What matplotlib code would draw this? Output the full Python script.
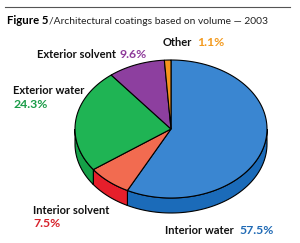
import numpy as np
import matplotlib.pyplot as plt
from matplotlib.patches import Polygon

# data (clockwise from 12 o'clock)
labels = ["Interior water", "Interior solvent", "Exterior water", "Exterior solvent", "Other"]
shares = [57.5, 7.5, 24.3, 9.6, 1.1]
top_colors = ["#3a86d1", "#f26b50", "#1fb454", "#8d3f9f", "#f7941d"]
side_colors = ["#1b6bb9", "#e61f2b", "#15a048", "#76318a", "#e07d10"]
text_colors = ["#1f6ab5", "#d7202a", "#1a9c48", "#8e3a9a", "#f39a1e"]

plt.rcParams['font.family'] = ['Lato', 'DejaVu Sans']

fig = plt.figure(figsize=(3.0, 2.43), dpi=100)
ax = fig.add_axes([0, 0, 1, 1])
ax.set_xlim(0, 300)
ax.set_ylim(243, 0)
ax.axis('off')

# pie geometry in pixels
cx, cy, a, b, depth = 171, 129, 96, 69, 15


def pt(t, dy=0.0):
    return cx + a * np.cos(np.radians(t)), cy - b * np.sin(np.radians(t)) + dy


cum = np.concatenate([[0], np.cumsum(shares)]) / sum(shares)
starts = 90 - 360 * cum[:-1]
ends = 90 - 360 * cum[1:]

# side walls (front half only: angles -180..0)
for s, e, col in zip(starts, ends, side_colors):
    hi = min(s, 0.0)
    lo = max(e, -180.0)
    if hi <= lo:
        continue
    t = np.linspace(hi, lo, 60)
    upper = [pt(v) for v in t]
    lower = [pt(v, depth) for v in t[::-1]]
    ax.add_patch(Polygon(upper + lower, closed=True, fc=col, ec='black', lw=0.8, zorder=1))

# top surface
for s, e, col in zip(starts, ends, top_colors):
    t = np.linspace(s, e, 120)
    verts = [(cx, cy)] + [pt(v) for v in t]
    ax.add_patch(Polygon(verts, closed=True, fc=col, ec='black', lw=0.8, zorder=2))

# title
ax.plot([5, 290], [7, 7], color='#555555', lw=0.8)
t1 = ax.text(7, 21, "Figure 5", fontsize=8.2, fontweight='bold', va='center', ha='left')
ax.annotate("/Architectural coatings based on volume \u2014 2003", xy=(1, 0.5), xycoords=t1,
            xytext=(0.3, 0), textcoords='offset points', fontsize=7.4, va='center', ha='left',
            color='#222222')

# labels
lab_kw = dict(fontsize=8, fontweight='bold', va='center', ha='left', color='#111111')
pct_kw = dict(fontsize=8.8, fontweight='bold', va='center', ha='left')

ax.text(163, 43, labels[4], **lab_kw)
ax.text(197, 43, f"{shares[4]}%", color=text_colors[4], **pct_kw)

ax.text(37, 54, labels[3], **lab_kw)
ax.text(119, 54, f"{shares[3]}%", color=text_colors[3], **pct_kw)

ax.text(13, 90, labels[2], **lab_kw)
ax.text(13, 104, f"{shares[2]}%", color=text_colors[2], **pct_kw)

ax.text(33, 210, labels[1], **lab_kw)
ax.text(33, 223, f"{shares[1]}%", color=text_colors[1], **pct_kw)

ax.text(165, 230, labels[0], **lab_kw)
ax.text(239, 230, f"{shares[0]}%", color=text_colors[0], **pct_kw)

fig.savefig("out.png", dpi=100)
